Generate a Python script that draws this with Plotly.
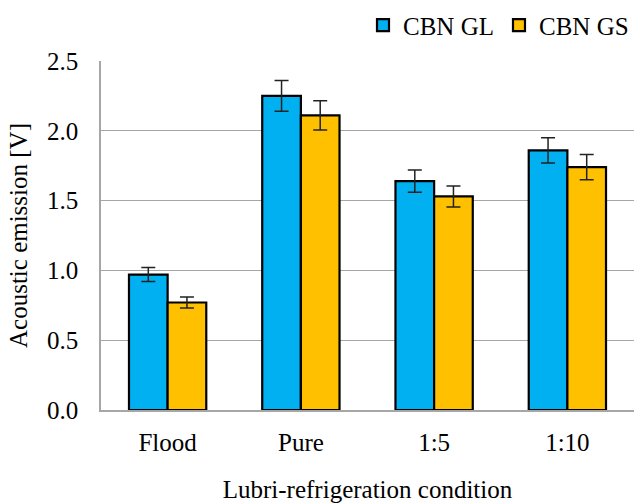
import plotly.graph_objects as go

# Acoustic emission per lubri-refrigeration condition, two CBN grinding wheels
conditions = ["Flood", "Pure", "1:5", "1:10"]
gl_values = [0.97, 2.25, 1.64, 1.86]
gl_errors = [0.05, 0.11, 0.08, 0.09]
gs_values = [0.77, 2.11, 1.53, 1.74]
gs_errors = [0.04, 0.105, 0.075, 0.09]
y_ticks = [0.0, 0.5, 1.0, 1.5, 2.0, 2.5]

FONT = "Liberation Serif, Times New Roman, serif"
SIZE = 25

fig = go.Figure()
fig.add_trace(go.Bar(
    name="CBN GL", x=conditions, y=gl_values,
    marker=dict(color="#00B0F0", line=dict(color="#000000", width=2.2)),
    error_y=dict(type="data", array=gl_errors, color="#222222", thickness=1.5, width=7),
))
fig.add_trace(go.Bar(
    name="CBN GS", x=conditions, y=gs_values,
    marker=dict(color="#FFC000", line=dict(color="#000000", width=2.2)),
    error_y=dict(type="data", array=gs_errors, color="#222222", thickness=1.5, width=7),
))

fig.update_layout(
    width=636, height=503,
    margin=dict(l=101, r=2, t=59, b=90),
    paper_bgcolor="white", plot_bgcolor="white",
    barmode="group", bargap=0.42, bargroupgap=0,
    font=dict(family=FONT, size=SIZE, color="#000000"),
    showlegend=True,
    legend=dict(orientation="h", x=1.0, xanchor="right", y=1.102, yanchor="middle",
                font=dict(family=FONT, size=SIZE), itemwidth=30, traceorder="normal"),
)
fig.update_xaxes(
    showline=True, linecolor="#A6A6A6", linewidth=1.5, showgrid=False,
    ticks="", ticklabelstandoff=9,
    title=dict(text="Lubri-refrigeration condition", standoff=28,
               font=dict(family=FONT, size=SIZE)),
)
fig.update_yaxes(
    range=[0, 2.5], tickvals=y_ticks, ticktext=[f"{v:.1f}" for v in y_ticks],
    showline=True, linecolor="#A6A6A6", linewidth=1.5,
    showgrid=True, gridcolor="#A6A6A6", gridwidth=1.2, zeroline=False,
    ticks="", ticklabelstandoff=16,
    title=dict(text="Acoustic emission [V]", standoff=12,
               font=dict(family=FONT, size=SIZE)),
)

fig.write_html("out.html")
